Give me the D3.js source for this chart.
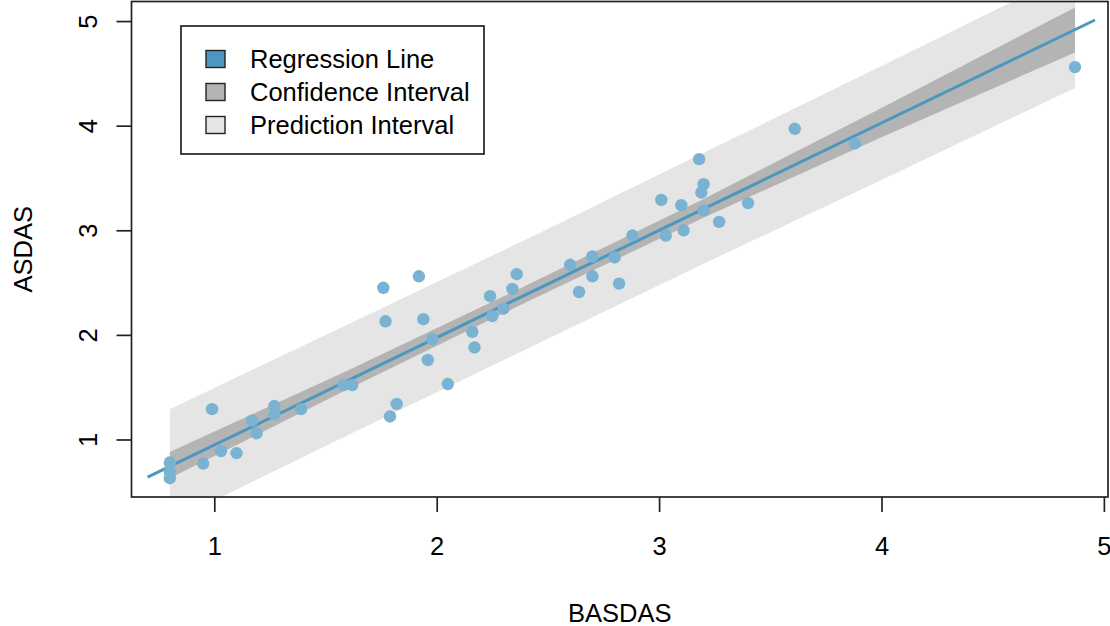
<!DOCTYPE html>
<html>
<head>
<meta charset="utf-8">
<script src="https://cdn.jsdelivr.net/npm/d3@7"></script>
<style>
    body { margin: 0; background: #fff; }
    text { font-family: "Liberation Sans", Arial, sans-serif; fill: #000; }
</style>
</head>
<body>
<script>
var basdas = [0.80, 0.80, 0.80, 0.95, 0.99, 1.03, 1.10, 1.17, 1.19, 1.27,
    1.27, 1.39, 1.58, 1.62, 1.76, 1.77, 1.79, 1.82, 1.92, 1.94,
    1.96, 1.98, 2.05, 2.16, 2.17, 2.24, 2.25, 2.30, 2.34, 2.36,
    2.60, 2.64, 2.70, 2.70, 2.80, 2.82, 2.88, 3.03, 3.01, 3.10,
    3.11, 3.18, 3.20, 3.19, 3.20, 3.27, 3.40, 3.61, 3.88, 4.87];
var asdas = [0.78, 0.69, 0.63, 0.77, 1.29, 0.89, 0.87, 1.18, 1.06, 1.32,
    1.24, 1.29, 1.52, 1.52, 2.45, 2.13, 1.22, 1.34, 2.56, 2.15,
    1.76, 1.96, 1.53, 2.03, 1.88, 2.37, 2.18, 2.25, 2.44, 2.58,
    2.67, 2.41, 2.56, 2.75, 2.74, 2.49, 2.95, 2.95, 3.29, 3.24,
    3.00, 3.68, 3.44, 3.36, 3.19, 3.08, 3.26, 3.97, 3.83, 4.56];

//fitted line end points
var lineX = [0.70, 4.96];
var lineY = [0.64, 5.01];

//band edges read at a few x positions
var bandX = [0.80, 1.60, 2.40, 3.20, 4.00, 4.87];
var ciLower = [0.63, 1.48, 2.31, 3.12, 3.89, 4.70];
var ciUpper = [0.88, 1.66, 2.47, 3.30, 4.17, 5.13];
var piLower = [0.21, 1.04, 1.86, 2.68, 3.48, 4.36];
var piUpper = [1.29, 2.10, 2.91, 3.74, 4.57, 5.48];

var xTicks = [1, 2, 3, 4, 5];
var yTicks = [1, 2, 3, 4, 5];
var legendLabels = ["Regression Line", "Confidence Interval", "Prediction Interval"];
var legendColors = ["#4b97bf", "#b4b4b4", "#e5e5e5"];

window.onload = setChart();

function setChart(){

    var width = 1110,
        height = 626;

    //plot region, as R leaves it
    var left = 131.5,
        right = 1108,
        top = 1.5,
        bottom = 497;

    var svg = d3.select("body")
        .append("svg")
        .attr("width", width)
        .attr("height", height);

    var x = d3.scaleLinear()
        .domain([0.6277, 5.0185])
        .range([left, right]);

    var y = d3.scaleLinear()
        .domain([0.4503, 5.187])
        .range([bottom, top]);

    svg.append("clipPath")
        .attr("id", "plotClip")
        .append("rect")
        .attr("x", left)
        .attr("y", top)
        .attr("width", right - left)
        .attr("height", bottom - top);

    var plot = svg.append("g")
        .attr("clip-path", "url(#plotClip)");

    //bands are drawn widest first
    var bands = [
        {lo: piLower, hi: piUpper, fill: legendColors[2]},
        {lo: ciLower, hi: ciUpper, fill: legendColors[1]}
    ];

    bands.forEach(function(b){
        var area = d3.area()
            .x(function(d, i){ return x(bandX[i]); })
            .y0(function(d, i){ return y(b.lo[i]); })
            .y1(function(d, i){ return y(b.hi[i]); });
        plot.append("path")
            .datum(bandX)
            .attr("d", area)
            .attr("fill", b.fill);
    });

    //regression line
    var line = d3.line()
        .x(function(d){ return x(d); })
        .y(function(d, i){ return y(lineY[i]); });

    plot.append("path")
        .datum(lineX)
        .attr("d", line)
        .attr("fill", "none")
        .attr("stroke", legendColors[0])
        .attr("stroke-width", 3);

    //points
    plot.selectAll(".pt")
        .data(basdas)
        .enter()
        .append("circle")
        .attr("class", "pt")
        .attr("cx", function(d){ return x(d); })
        .attr("cy", function(d, i){ return y(asdas[i]); })
        .attr("r", 6.2)
        .attr("fill", "#7ab3d1");

    //frame
    svg.append("rect")
        .attr("x", left)
        .attr("y", top)
        .attr("width", right - left)
        .attr("height", bottom - top)
        .attr("fill", "none")
        .attr("stroke", "#222")
        .attr("stroke-width", 1.7);

    //x axis
    var xAxis = svg.append("g")
        .attr("transform", "translate(0," + bottom + ")")
        .call(d3.axisBottom(x).tickValues(xTicks).tickSize(15).tickFormat(d3.format("d")));
    xAxis.select(".domain").remove();
    xAxis.selectAll("line").attr("stroke", "#222").attr("stroke-width", 1.7);
    xAxis.selectAll("text")
        .attr("y", 58)
        .attr("dy", null)
        .style("font-size", "25.5px")
        .style("font-family", "'Liberation Sans', Arial, sans-serif");

    //y axis, labels turned like R does
    var yAxis = svg.append("g")
        .attr("transform", "translate(" + left + ",0)")
        .call(d3.axisLeft(y).tickValues(yTicks).tickSize(15).tickFormat(d3.format("d")));
    yAxis.select(".domain").remove();
    yAxis.selectAll("line").attr("stroke", "#222").attr("stroke-width", 1.7);
    yAxis.selectAll("text")
        .attr("x", null)
        .attr("dy", null)
        .attr("transform", "translate(-34.5,0) rotate(-90)")
        .attr("text-anchor", "middle")
        .style("font-size", "25.5px")
        .style("font-family", "'Liberation Sans', Arial, sans-serif");

    //axis titles
    svg.append("text")
        .attr("x", (left + right) / 2)
        .attr("y", 622)
        .attr("text-anchor", "middle")
        .style("font-size", "25.5px")
        .text("BASDAS");

    svg.append("text")
        .attr("transform", "translate(32," + ((top + bottom) / 2) + ") rotate(-90)")
        .attr("text-anchor", "middle")
        .style("font-size", "25.5px")
        .text("ASDAS");

    setLegend(svg);
};

function setLegend(svg){
    var legend = svg.append("g");

    legend.append("rect")
        .attr("x", 181)
        .attr("y", 26)
        .attr("width", 303)
        .attr("height", 128)
        .attr("fill", "#fff")
        .attr("stroke", "#222")
        .attr("stroke-width", 1.7);

    var rows = legend.selectAll(".row")
        .data(legendLabels)
        .enter()
        .append("g")
        .attr("class", "row")
        .attr("transform", function(d, i){ return "translate(0," + (59 + i * 33) + ")"; });

    rows.append("rect")
        .attr("x", 206)
        .attr("y", -8.5)
        .attr("width", 19)
        .attr("height", 17)
        .attr("fill", function(d, i){ return legendColors[i]; })
        .attr("stroke", "#222")
        .attr("stroke-width", 1.4);

    rows.append("text")
        .attr("x", 250)
        .attr("y", 9)
        .style("font-size", "25.5px")
        .text(function(d){ return d; });
};
</script>
</body>
</html>
